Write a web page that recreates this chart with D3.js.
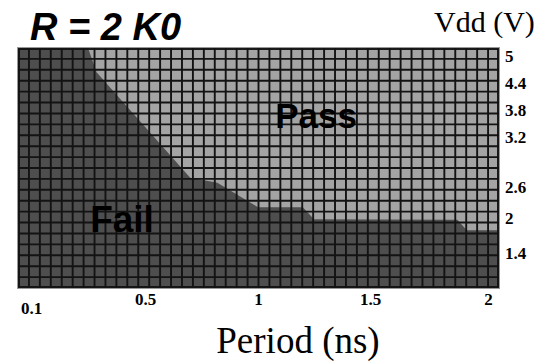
<!DOCTYPE html>
<html>
<head>
<meta charset="utf-8">
<script src="https://cdn.jsdelivr.net/npm/d3@7"></script>
<style>
  body { margin: 0; background: #fff; }
</style>
</head>
<body>
<div id="chart"></div>
<script>
// tick labels on the two axes
var periodTicks = [0.1, 0.5, 1, 1.5, 2];
var vddTicks = [5, 4.4, 3.8, 3.2, 2.6, 2, 1.4];

// pass / fail boundary (period in ns, Vdd in V)
var boundaryPeriod = [0.30, 0.33, 0.70, 0.82, 1.00, 1.20, 1.25, 1.87, 1.91, 2.07];
var boundaryVdd    = [5.18, 4.64, 2.71, 2.65, 2.21, 2.21, 1.98, 1.97, 1.79, 1.79];

// shmoo grid size
var gridCols = d3.range(44);
var gridRows = d3.range(22);

var width = 538, height = 362;
var plot = { left: 18, right: 499, top: 48, bottom: 288 };

var svg = d3.select('#chart').append('svg')
    .attr('width', width)
    .attr('height', height);

// tick positions in the original are not evenly spread, so piecewise scales
var x = d3.scaleLinear().domain(periodTicks).range([31, 145, 258, 370, 488]);
var y = d3.scaleLinear().domain(vddTicks).range([56, 83, 110, 137, 187, 218, 253]);

var col = d3.scaleBand().domain(gridCols).range([plot.left, plot.right]);
var row = d3.scaleBand().domain(gridRows).range([plot.top, plot.bottom]);

svg.append('clipPath').attr('id', 'frame')
    .append('rect')
    .attr('x', plot.left).attr('y', plot.top)
    .attr('width', plot.right - plot.left)
    .attr('height', plot.bottom - plot.top);

// F A I L  background
svg.append('rect')
    .attr('x', plot.left).attr('y', plot.top)
    .attr('width', plot.right - plot.left)
    .attr('height', plot.bottom - plot.top)
    .attr('fill', '#4e4e4e');

// P A S S  region: boundary then back round the top right corner
var passPts = boundaryPeriod.map(function (p, i) { return [p, boundaryVdd[i]]; });
passPts.push([boundaryPeriod[boundaryPeriod.length - 1], boundaryVdd[0]]);

svg.append('path')
    .datum(passPts)
    .attr('clip-path', 'url(#frame)')
    .attr('fill', '#a4a4a4')
    .attr('d', d3.line()
        .x(function (d) { return x(d[0]); })
        .y(function (d) { return y(d[1]); }).curve(d3.curveLinearClosed));

// G R I D
var g = svg.append('g').attr('stroke', '#131313').attr('stroke-width', 1.9);

g.selectAll('.vline').data(gridCols.slice(1)).enter().append('line')
    .attr('class', 'vline')
    .attr('x1', function (d) { return col(d); })
    .attr('x2', function (d) { return col(d); })
    .attr('y1', plot.top).attr('y2', plot.bottom);

g.selectAll('.hline').data(gridRows.slice(1)).enter().append('line')
    .attr('class', 'hline')
    .attr('y1', function (d) { return row(d); })
    .attr('y2', function (d) { return row(d); })
    .attr('x1', plot.left).attr('x2', plot.right);

svg.append('rect')
    .attr('x', plot.left + 1).attr('y', plot.top + 1)
    .attr('width', plot.right - plot.left - 2)
    .attr('height', plot.bottom - plot.top - 2)
    .attr('fill', 'none')
    .attr('stroke', '#131313')
    .attr('stroke-width', 1.9);

svg.append('rect')
    .attr('x', plot.left - 0.5).attr('y', plot.top - 0.5)
    .attr('width', plot.right - plot.left + 1)
    .attr('height', plot.bottom - plot.top + 1)
    .attr('fill', 'none')
    .attr('stroke', '#999')
    .attr('stroke-width', 1);

// A X E S
var xAxis = svg.append('g')
    .attr('transform', 'translate(0,' + 293 + ')')
    .call(d3.axisBottom(x).tickValues(periodTicks).tickSize(0).tickFormat(d3.format('')));
xAxis.select('.domain').remove();
xAxis.selectAll('text')
    .attr('font-family', 'Liberation Serif, Times New Roman, serif')
    .attr('font-weight', 'bold')
    .attr('font-size', 17)
    .attr('fill', '#000')
    .attr('dy', function (d, i) { return i === 0 ? '1.05em' : '0.55em'; });

var yAxis = svg.append('g')
    .attr('transform', 'translate(' + 505 + ',0)')
    .call(d3.axisRight(y).tickValues(vddTicks).tickSize(0).tickFormat(d3.format('')));
yAxis.select('.domain').remove();
yAxis.selectAll('text')
    .attr('x', 0)
    .attr('font-family', 'Liberation Serif, Times New Roman, serif')
    .attr('font-weight', 'bold')
    .attr('font-size', 17)
    .attr('fill', '#000');

// T E X T
svg.append('text')
    .attr('x', 30).attr('y', 40)
    .attr('font-family', 'Liberation Sans, Arial, sans-serif')
    .attr('font-weight', 'bold')
    .attr('font-style', 'italic')
    .attr('font-size', 38)
    .text('R = 2 K0');

svg.append('text')
    .attr('x', 434).attr('y', 32)
    .attr('font-family', 'Liberation Serif, Times New Roman, serif')
    .attr('font-size', 30)
    .text('Vdd (V)');

svg.append('text')
    .attr('x', 298).attr('y', 353)
    .attr('text-anchor', 'middle')
    .attr('font-family', 'Liberation Serif, Times New Roman, serif')
    .attr('font-size', 37)
    .text('Period (ns)');

svg.append('text')
    .attr('x', 316).attr('y', 128)
    .attr('text-anchor', 'middle')
    .attr('font-family', 'Liberation Sans, Arial, sans-serif')
    .attr('font-weight', 'bold')
    .attr('font-size', 35)
    .text('Pass');

svg.append('text')
    .attr('x', 122).attr('y', 232)
    .attr('text-anchor', 'middle')
    .attr('font-family', 'Liberation Sans, Arial, sans-serif')
    .attr('font-weight', 'bold')
    .attr('font-size', 37)
    .text('Fail');
</script>
</body>
</html>
